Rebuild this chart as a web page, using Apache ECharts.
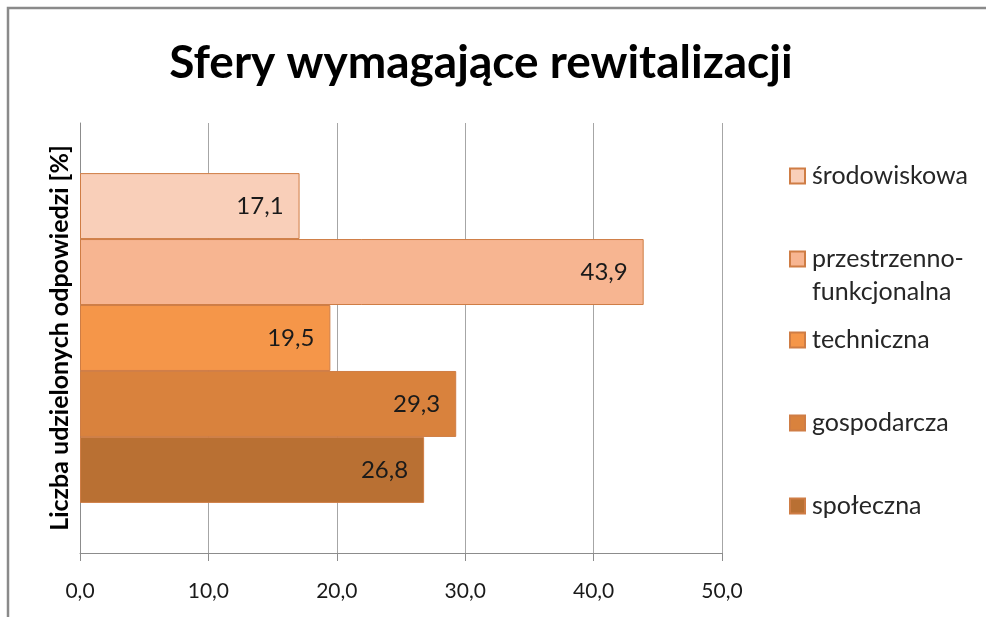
<!DOCTYPE html>
<html>
<head>
<meta charset="utf-8">
<style>
  html, body { margin: 0; padding: 0; background: #fff; }
  #chart { width: 986px; height: 617px; }
</style>
<script src="https://cdn.jsdelivr.net/npm/echarts@6/dist/echarts.min.js"></script>
</head>
<body>
<div id="chart"></div>
<script>
// Spheres requiring revitalisation, share of answers [%]
const seriesNames = ['środowiskowa', 'przestrzenno-funkcjonalna', 'techniczna', 'gospodarcza', 'społeczna'];
const seriesValues = [17.1, 43.9, 19.5, 29.3, 26.8];
const seriesColors = ['#f9cfb9', '#f7b591', '#f59649', '#d9823d', '#b97033'];
const categories = [''];
const xTicks = [0, 10, 20, 30, 40, 50];
// vertical centre of each legend icon
const legendCenters = [176, 259, 340, 423, 506];

const FONT = 'Lato, "Noto Sans", sans-serif';
const fmt = v => Number(v).toFixed(1).replace('.', ',');

// first series is drawn at the top of the band
const series = seriesNames.map((name, i) => ({
  name: name,
  type: 'bar',
  data: [seriesValues[i]],
  barGap: '0%',
  barCategoryGap: '23.3%',
  itemStyle: { color: seriesColors[i], borderColor: '#cf7d45', borderWidth: 1 },
  label: {
    show: true,
    position: 'insideRight',
    distance: 16,
    formatter: p => fmt(p.value),
    fontFamily: FONT,
    fontSize: 24,
    color: '#1a1a1a'
  }
}));

// one legend per entry so each row sits at its own height;
// the two-line entry gets a blank first line so its first text line lines up with the icon
const legends = seriesNames.map((name, i) => {
  const twoLine = name.indexOf('-') >= 0;
  return {
    data: [name],
    orient: 'vertical',
    left: 789,
    top: twoLine ? legendCenters[i] - 49.5 : legendCenters[i] - 15,
    padding: 0,
    icon: 'rect',
    itemWidth: 15,
    itemHeight: 15,
    itemGap: 0,
    selectedMode: false,
    formatter: n => twoLine ? '\n' + n.replace('-', '-\n') : n,
    textStyle: { fontFamily: FONT, fontSize: 25, color: '#262626', lineHeight: twoLine ? 33 : 30, padding: [0, 0, 0, 2] }
  };
});

const chart = echarts.init(document.getElementById('chart'), null, { renderer: 'canvas' });
chart.setOption({
  animation: false,
  backgroundColor: '#ffffff',
  title: {
    text: 'Sfery wymagające rewitalizacji',
    left: 476,
    textAlign: 'center',
    top: 35,
    textStyle: { fontFamily: FONT, fontWeight: 'bold', fontSize: 46, color: '#000' }
  },
  legend: legends,
  grid: { left: 80, right: 264, top: 123, bottom: 64, containLabel: false },
  xAxis: {
    type: 'value',
    min: xTicks[0],
    max: xTicks[xTicks.length - 1],
    interval: 10,
    axisLine: { show: true, lineStyle: { color: '#8c8c8c', width: 1 } },
    axisTick: { show: true, length: 8, lineStyle: { color: '#8c8c8c' } },
    splitLine: { show: true, lineStyle: { color: '#a6a6a6', width: 1 } },
    axisLabel: { formatter: fmt, fontFamily: FONT, fontSize: 21, color: '#1a1a1a', margin: 28 }
  },
  yAxis: {
    type: 'category',
    data: categories,
    name: 'Liczba udzielonych odpowiedzi [%]',
    nameLocation: 'middle',
    nameRotate: 90,
    nameGap: 8,
    nameTextStyle: { fontFamily: FONT, fontWeight: 'bold', fontSize: 25, color: '#000' },
    axisLine: { show: true, lineStyle: { color: '#8c8c8c', width: 1 } },
    axisTick: { show: false },
    axisLabel: { show: false }
  },
  graphic: [{
    type: 'rect',
    silent: true,
    shape: { x: 8, y: 8, width: 1000, height: 640 },
    style: { fill: 'none', stroke: '#8a8a8a', lineWidth: 2.5 }
  }],
  series: series
});
</script>
</body>
</html>
